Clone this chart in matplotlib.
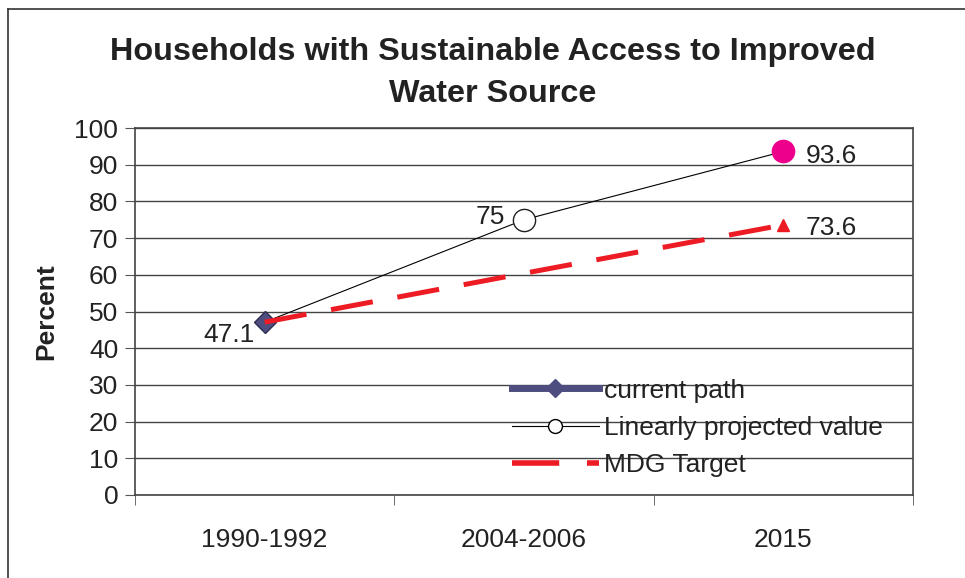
import matplotlib.pyplot as plt
from matplotlib.lines import Line2D

plt.rcParams['font.family'] = ['Liberation Sans', 'DejaVu Sans']

# Data
periods = ["1990-1992", "2004-2006", "2015"]
current_path = [47.1]
projected = [47.1, 75, 93.6]
mdg_target = [47.1, 60.4, 73.6]
mdg_labels = {2: "73.6"}

fig = plt.figure(figsize=(9.65, 5.78), dpi=100)
ax = fig.add_axes([135 / 965, 1 - 495 / 578, (913 - 135) / 965, (495 - 128) / 578])

x = list(range(len(periods)))
fs = 19

# Linearly projected value (thin black line)
ax.plot(x, projected, color="black", lw=0.8, zorder=3)
ax.plot(x[1], projected[1], "o", ms=16, mfc="white", mec="#222222", mew=1.0, zorder=4)
ax.plot(x[2], projected[2], "o", ms=16, mfc="#EC008C", mec="#EC008C", zorder=4)

# Current path (one point)
ax.plot(x[:len(current_path)], current_path, "D", ms=11, mfc="#4D4D80", mec="#2E2E50",
        mew=1, zorder=5)

# MDG target (red dashed)
ax.plot(x, mdg_target, color="#ED1C24", lw=3.6, dashes=(8.5, 5), zorder=6)
ax.plot(x[2], mdg_target[2], "^", ms=9, color="#ED1C24", zorder=6)

# Data labels
ax.annotate("47.1", (x[0], current_path[0]), xytext=(-7, -9), textcoords="offset points",
            ha="right", va="center", fontsize=fs, color="#222222")
ax.annotate("75", (x[1], projected[1]), xytext=(-14, 2), textcoords="offset points",
            ha="right", va="center", fontsize=fs, color="#222222")
ax.annotate("93.6", (x[2], projected[2]), xytext=(16, -3), textcoords="offset points",
            ha="left", va="center", fontsize=fs, color="#222222")
ax.annotate(mdg_labels[2], (x[2], mdg_target[2]), xytext=(16, -2), textcoords="offset points",
            ha="left", va="center", fontsize=fs, color="#222222")

ax.set_xlim(-0.5, 2.5)
ax.set_ylim(0, 100)
ax.set_yticks(range(0, 101, 10))
ax.set_xticks(x)
ax.set_xticklabels(periods)
ax.set_xticks([-0.5, 0.5, 1.5, 2.5], minor=True)
ax.tick_params(axis="x", which="major", length=0, labelsize=fs, pad=24, colors="#222222")
ax.tick_params(axis="x", which="minor", length=7, direction="out", color="#555555")
ax.tick_params(axis="y", length=7, direction="out", labelsize=fs, colors="#222222",
               color="#555555", pad=5)
ax.yaxis.grid(True, color="#444444", lw=1)
ax.set_axisbelow(True)
for s in ax.spines.values():
    s.set_color("#444444")
    s.set_linewidth(1.2)

ax.set_ylabel("Percent", fontsize=fs, fontweight="bold", labelpad=12, color="#222222")

fig.text(493 / 965, 1 - 73 / 578,
         "Households with Sustainable Access to Improved\nWater Source",
         ha="center", va="center", fontsize=23.3, fontweight="bold", color="#222222",
         linespacing=1.5)

# Legend
handles = [
    Line2D([], [], color="#4D4D80", lw=5, marker="D", ms=9, mfc="#4D4D80", mec="#4D4D80"),
    Line2D([], [], color="black", lw=0.8, marker="o", ms=10, mfc="white", mec="black"),
    Line2D([], [], color="#ED1C24", lw=4, dashes=(8.5, 5)),
]
ax.legend(handles, ["current path", "Linearly projected value", "MDG Target"],
          loc="center left", bbox_to_anchor=(0.467, 0.183), frameon=False, fontsize=fs,
          borderpad=0, handlelength=3.3, handletextpad=0.22, labelspacing=0.5,
          labelcolor="#222222")

# Outer border (left and top)
fig.add_artist(Line2D([8 / 965, 8 / 965], [0, 1 - 9 / 578], transform=fig.transFigure,
                      color="#333333", lw=1.2))
fig.add_artist(Line2D([8 / 965, 1], [1 - 9 / 578, 1 - 9 / 578], transform=fig.transFigure,
                      color="#333333", lw=1.2))

fig.savefig("out.png", dpi=100)
